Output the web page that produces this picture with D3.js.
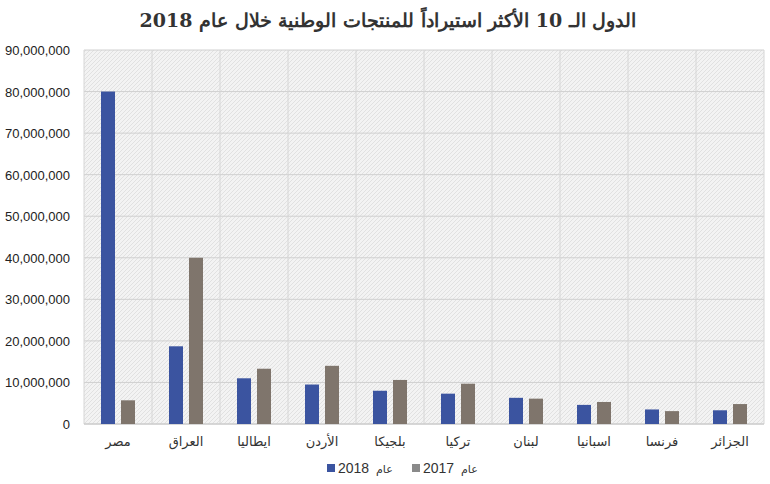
<!DOCTYPE html><html><head><meta charset="utf-8"><script src="https://cdn.jsdelivr.net/npm/d3@7"></script>
<style>body{margin:0;background:#fff}</style></head><body><svg id="c" width="770" height="484"></svg>
<script>
const categories=["مصر","العراق","ايطاليا","الأردن","بلجيكا","تركيا","لبنان","اسبانيا","فرنسا","الجزائر"];
const v2018=[80000000,18700000,11000000,9500000,8000000,7300000,6300000,4600000,3500000,3300000];
const v2017=[5700000,40000000,13300000,14000000,10600000,9700000,6100000,5300000,3100000,4800000];
const yTicks=[0,10000000,20000000,30000000,40000000,50000000,60000000,70000000,80000000,90000000];
const svg=d3.select("#c");
const defs=svg.append("defs");
const p=defs.append("pattern").attr("id","h").attr("width",4).attr("height",4).attr("patternUnits","userSpaceOnUse");
p.append("rect").attr("width",4).attr("height",4).attr("fill","#f3f3f3");
p.append("path").attr("d","M0,4L4,0M-1,1L1,-1M3,5L5,3").attr("stroke","#dcdcdc").attr("stroke-width",0.8);
const L=84,R=764,T=50,B=424;
const x=d3.scaleBand().domain(categories).range([L,R]);
const y=d3.scaleLinear().domain([0,90000000]).range([B,T]);
svg.append("rect").attr("x",L).attr("y",T).attr("width",R-L).attr("height",B-T).attr("fill","url(#h)");
svg.append("g").selectAll("line").data(yTicks).join("line").attr("x1",L).attr("x2",R).attr("y1",d=>y(d)).attr("y2",d=>y(d)).attr("stroke","#d0d0d0");
svg.append("g").selectAll("line").data(categories).join("line").attr("x1",d=>x(d)).attr("x2",d=>x(d)).attr("y1",T).attr("y2",B).attr("stroke","#d6d6d6");
svg.append("line").attr("x1",R).attr("x2",R).attr("y1",T).attr("y2",B).attr("stroke","#d6d6d6");
svg.append("line").attr("x1",L).attr("x2",R).attr("y1",B).attr("y2",B).attr("stroke","#c8c8c8");
const c=x.bandwidth()/2,bw=14;
svg.append("g").selectAll("rect").data(categories).join("rect").attr("x",d=>x(d)+c-bw-3).attr("width",bw).attr("y",(d,i)=>y(v2018[i])).attr("height",(d,i)=>B-y(v2018[i])).attr("fill","#3b54a0");
svg.append("g").selectAll("rect").data(categories).join("rect").attr("x",d=>x(d)+c+3).attr("width",bw).attr("y",(d,i)=>y(v2017[i])).attr("height",(d,i)=>B-y(v2017[i])).attr("fill","#7f756c");
svg.append("g").selectAll("text").data(yTicks).join("text").attr("x",70).attr("y",d=>y(d)+5).attr("text-anchor","end").attr("font-family","Liberation Sans,Arial").attr("font-size",13).attr("fill","#222").text(d=>d3.format(",")(d));
svg.append("g").selectAll("text").data(categories).join("text").attr("x",d=>x(d)+c).attr("y",446).attr("text-anchor","middle").attr("font-family","DejaVu Sans").attr("font-size",13).attr("fill","#333").text(d=>d);
svg.append("text").attr("x",388).attr("y",27).attr("text-anchor","middle").attr("font-family","DejaVu Serif,serif").attr("font-weight","bold").attr("font-size",19).attr("fill","#333").attr("direction","rtl").text("الدول الـ 10 الأكثر استيراداً للمنتجات الوطنية خلال عام 2018");
// legend
svg.append("rect").attr("x",327).attr("y",464).attr("width",8).attr("height",8).attr("fill","#3b54a0");
svg.append("text").attr("x",338).attr("y",473).attr("font-family","Liberation Sans,Arial").attr("font-size",14).attr("fill","#333").text("2018");
svg.append("text").attr("x",376).attr("y",473).attr("font-family","DejaVu Sans").attr("font-size",11).attr("fill","#333").text("عام");
svg.append("rect").attr("x",412).attr("y",464).attr("width",8).attr("height",8).attr("fill","#8a8a8a");
svg.append("text").attr("x",423).attr("y",473).attr("font-family","Liberation Sans,Arial").attr("font-size",14).attr("fill","#333").text("2017");
svg.append("text").attr("x",461).attr("y",473).attr("font-family","DejaVu Sans").attr("font-size",11).attr("fill","#333").text("عام");
</script></body></html>
